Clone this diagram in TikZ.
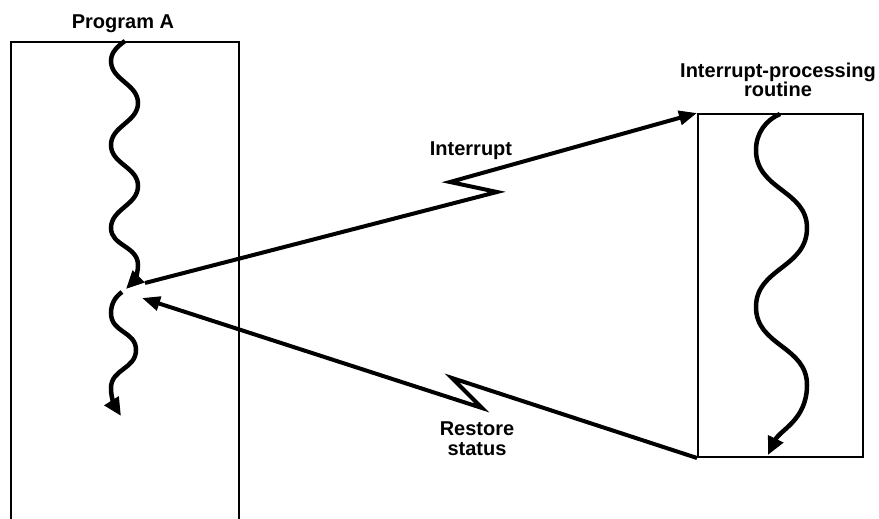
\documentclass[tikz,border=0pt]{standalone}
\usepackage{fontspec}
\setmainfont{Liberation Sans}
\usetikzlibrary{arrows.meta}

\tikzset{
  frame/.style={draw, line width=2pt, inner sep=0pt},
  flow/.style={line width=4.5pt, -{Triangle[length=18pt,width=16pt]}},
  signal/.style={line width=4pt, line join=miter, -{Triangle[length=18pt,width=14pt]}},
  caption/.style={font=\bfseries\fontsize{20}{20}\selectfont, align=center, inner sep=0pt},
}

\begin{document}
\begin{tikzpicture}[x=1pt, y=-1pt]
  \useasboundingbox (0,0) rectangle (879,519);
  \clip (0,0) rectangle (879,519);

  % main program: a tall frame running off the bottom edge
  \node[frame, anchor=north west, minimum width=228pt, minimum height=540pt] (progA) at (10,41) {};
  \node[caption, anchor=base] (progAlbl) at (123,29) {Program A};

  % interrupt handler
  \node[frame, anchor=north west, minimum width=165pt, minimum height=343pt] (irq) at (697,113) {};
  \node[caption, anchor=base] (irqlbl) at (778,97) {Interrupt-processing\\routine};

  % where program A is suspended and resumed
  \coordinate (intA) at (145,283);
  \coordinate (retA) at (142,298);

  % execution of program A before the interrupt, ending in a hook
  \draw[flow] (125,41) .. controls (118,46) and (111,52) .. (111,61)
    .. controls (111,80) and (138,84) .. (138,103)
    .. controls (138,122) and (111,126) .. (111,145)
    .. controls (111,164) and (138,167) .. (138,186)
    .. controls (138,205) and (111,209) .. (111,228)
    .. controls (111,246) and (138,246) .. (138,265)
    .. controls (138,274) and (134,281) .. (126,289);
  % execution of program A after return
  \draw[flow] (122,292) .. controls (115,297) and (111,304) .. (111,313)
    .. controls (111,333) and (136,331) .. (136,350)
    .. controls (136,369) and (111,369) .. (111,388)
    .. controls (111,400) and (116,408) .. (121,416);

  % execution of the interrupt routine
  \draw[flow] (780,114) .. controls (766,120) and (756,133) .. (756,150)
    .. controls (756,190) and (807,190) .. (807,228)
    .. controls (807,268) and (756,268) .. (756,307)
    .. controls (756,346) and (807,346) .. (807,385)
    .. controls (807,420) and (780,430) .. (768,455);

  % interrupt signal
  \draw[signal] (intA) -- (497,192) -- (450,182) -- (irq.north west);
  \node[caption, anchor=base] (intlbl) at (471,155) {Interrupt};

  % return path
  \draw[signal] (irq.south west) -- (452,378) -- (482,408) -- (retA);
  \node[caption, anchor=base] (retlbl) at (477,455) {Restore\\status};
\end{tikzpicture}
\end{document}
